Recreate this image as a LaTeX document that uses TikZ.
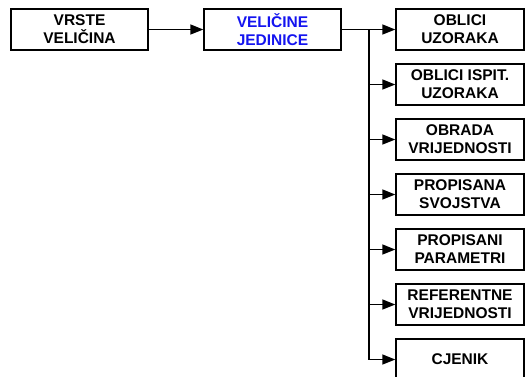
\documentclass[tikz,border=0pt]{standalone}
\usepackage{fontspec}
\setmainfont{Liberation Sans}
\usetikzlibrary{arrows.meta}
\definecolor{tblue}{RGB}{20,20,240}
\begin{document}
\begin{tikzpicture}[x=1bp,y=-1bp,
  box/.style={draw=black,line width=1.4bp,fill=white,inner sep=0pt,align=center,
    font=\fontsize{15.5bp}{18bp}\selectfont\bfseries},
  lbox/.style={box,minimum width=137bp,minimum height=41bp},
  rbox/.style={box,minimum width=128bp,minimum height=41bp},
  conn/.style={line width=1.4bp,-{Triangle[length=13bp,width=10bp]}},
  trunk/.style={line width=1.4bp}]
\useasboundingbox (0,0) rectangle (525,376);
\node[lbox] (b1) at (79.5,29.5) {VRSTE\\VELIČINA};
\node[lbox,text=tblue] (b2) at (272.5,29.5) {VELIČINE\\JEDINICE};
\node[rbox] (r1) at (460,29.5) {OBLICI\\UZORAKA};
\node[rbox] (r2) at (460,84.5) {OBLICI ISPIT.\\UZORAKA};
\node[rbox] (r3) at (460,139.5) {OBRADA\\VRIJEDNOSTI};
\node[rbox] (r4) at (460,194.5) {PROPISANA\\SVOJSTVA};
\node[rbox] (r5) at (460,249.5) {PROPISANI\\PARAMETRI};
\node[rbox] (r6) at (460,304.5) {REFERENTNE\\VRIJEDNOSTI};
\node[rbox] (r7) at (460,359.5) {CJENIK};
\coordinate (t) at (369,29.5);
\draw[conn] (b1) -- (b2);
\draw[trunk] (b2.east) -- (t) -- (t |- r7.west);
\draw[conn] (b2.east) -- (r1.west);
\foreach \i in {2,...,7} {\draw[conn] (t |- r\i.west) -- (r\i.west);}
\end{tikzpicture}
\end{document}
